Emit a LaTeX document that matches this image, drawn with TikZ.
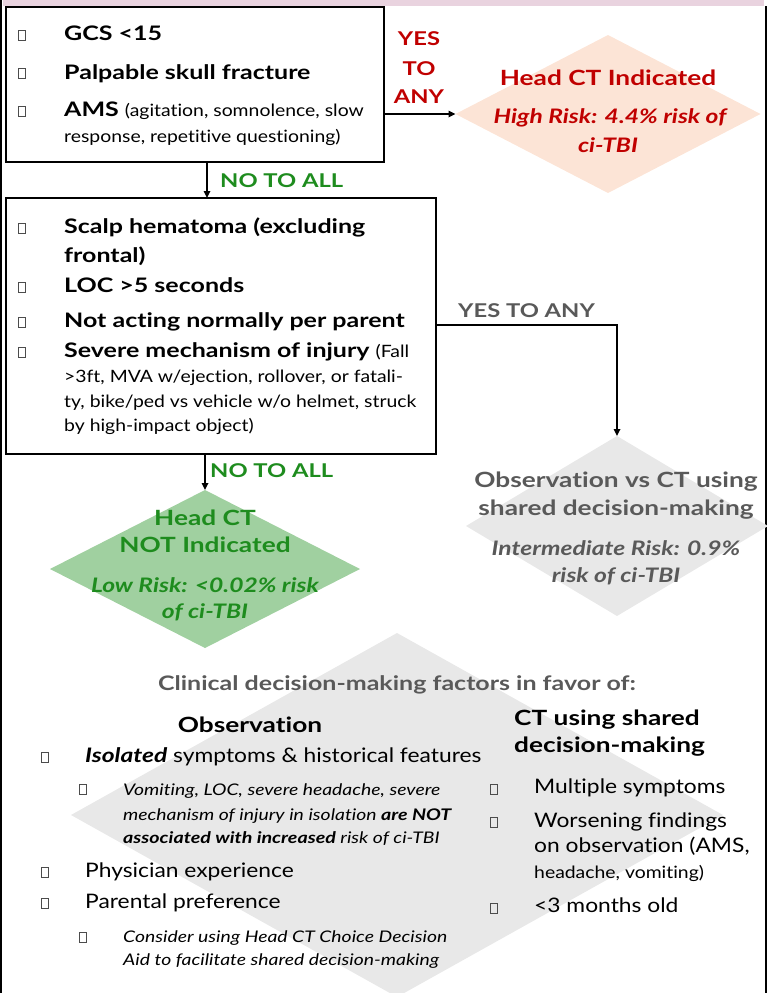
\documentclass[tikz,border=0pt]{standalone}
\usepackage{fontspec}
\setmainfont{Lato}[Ligatures=NoCommon,FakeStretch=1.14,BoldFeatures={FakeStretch=1.25},ItalicFeatures={FakeStretch=1.21},BoldItalicFeatures={FakeStretch=1.23}]
\usetikzlibrary{arrows.meta,shapes.geometric}
\definecolor{stripc}{RGB}{233,211,223}
\definecolor{redt}{RGB}{192,0,0}
\definecolor{greent}{RGB}{30,140,30}
\definecolor{greenf}{RGB}{160,208,160}
\definecolor{pinkf}{RGB}{252,228,214}
\definecolor{grayf}{RGB}{232,232,232}
\definecolor{grayt}{RGB}{89,89,89}
\newcommand\myB{\fontsize{20}{24}\selectfont\bfseries}
\newcommand\myL{\fontsize{19}{23}\selectfont\bfseries}
\newcommand\myS{\fontsize{17}{20}\selectfont}
\newcommand\myR{\fontsize{20}{24}\selectfont}
\newcommand\myI{\fontsize{16}{20}\selectfont\itshape}
\newcommand\myD{\fontsize{21}{25}\selectfont\bfseries}
\newcommand\myDI{\fontsize{20}{24}\selectfont\bfseries\itshape}
\tikzset{
  boxst/.style={draw=black,line width=2.3pt,inner sep=0pt,outer sep=0pt},
  chk/.style={draw=black!70,line width=0.8pt,minimum width=7pt,minimum height=10pt,inner sep=0pt},
  arr/.style={line width=1.6pt,-{Triangle[length=7pt,width=6.5pt]}},
  t/.style={inner sep=0pt,anchor=base west},
  tc/.style={inner sep=0pt,anchor=base},
  dia/.style={diamond,inner sep=0pt,draw=none,outer sep=0pt}
}
\begin{document}
\begin{tikzpicture}[x=1pt,y=-1pt]
\useasboundingbox (0,0) rectangle (767,993);
% frame
\fill[stripc] (3,0) rectangle (764,6);
\draw[line width=2pt] (1.2,0) -- (1.2,993);
\draw[line width=2pt] (765.8,6) -- (765.8,993);
% diamonds
\node[dia,fill=grayf,minimum width=652pt,minimum height=364pt] (fac) at (397,815) {};
\node[dia,fill=pinkf,minimum width=305pt,minimum height=158pt] (hi) at (608,114) {};
\node[dia,fill=grayf,minimum width=302pt,minimum height=180pt] (obs) at (617,526) {};
\node[dia,fill=greenf,minimum width=310pt,minimum height=158pt] (lo) at (205,569) {};
% boxes
\node[boxst,minimum width=378pt,minimum height=155pt] (b1) at (195,84.5) {};
\node[boxst,minimum width=430pt,minimum height=256pt] (b2) at (221,326) {};
% connectors
\coordinate (a1) at (207,0);
\coordinate (m2) at (617,325);
\draw[arr] (b1.east |- hi.west) -- (hi.west);
\draw[arr] (b1.south -| a1) -- (b2.north -| a1);
\draw[arr] (m2 -| b2.east) -- (m2) -- (obs.north);
\draw[arr] (b2.south -| lo.north) -- (lo.north);
% labels
\node[tc,font=\myL,text=redt] (y1) at (419,45) {YES};
\node[tc,font=\myL,text=redt] (y2) at (419,75) {TO};
\node[tc,font=\myL,text=redt] (y3) at (419,103) {ANY};
\node[t,font=\myL,text=greent] (n1) at (220,187) {NO TO ALL};
\node[t,font=\myL,text=grayt] (y4) at (458,317) {YES TO ANY};
\node[t,font=\myL,text=greent] (n2) at (210,477) {NO TO ALL};
% box 1
\node[chk] (c1) at (22,35) {};
\node[t,font=\myB] (t1) at (64,40) {GCS <15};
\node[chk] (c2) at (22,73) {};
\node[t,font=\myB] (t2) at (64,79) {Palpable skull fracture};
\node[chk] (c3) at (22,111) {};
\node[t,font=\myB] (t3) at (64,116) {AMS {\myS\mdseries (agitation, somnolence, slow}};
\node[t,font=\myS] (t3b) at (64,142) {response, repetitive questioning)};
% box 2
\node[chk] (c4) at (22,228) {};
\node[t,font=\myB] (t4) at (64,233) {Scalp hematoma (excluding};
\node[t,font=\myB] (t4b) at (64,262) {frontal)};
\node[chk] (c5) at (22,287) {};
\node[t,font=\myB] (t5) at (64,292) {LOC >5 seconds};
\node[chk] (c6) at (22,322) {};
\node[t,font=\myB] (t6) at (64,327) {Not acting normally per parent};
\node[chk] (c7) at (22,352) {};
\node[t,font=\myB] (t7) at (64,357) {Severe mechanism of injury {\myS\mdseries (Fall}};
\node[t,font=\myS] (t7b) at (64,382) {>3ft, MVA w/ejection, rollover, or fatali-};
\node[t,font=\myS] (t7c) at (64,407) {ty, bike/ped vs vehicle w/o helmet, struck};
\node[t,font=\myS] (t7d) at (64,431) {by high-impact object)};
% high risk diamond text
\node[tc,font=\myD,text=redt] (h1) at (608,85) {Head CT Indicated};
\node[tc,font=\myDI,text=redt] (h2) at (610,123) {High Risk: 4.4\% risk of};
\node[tc,font=\myDI,text=redt] (h3) at (608,152) {ci-TBI};
% observation diamond text
\node[tc,font=\myD,text=grayt] (o1) at (616,487) {Observation vs CT using};
\node[tc,font=\myD,text=grayt] (o2) at (616,515) {shared decision-making};
\node[tc,font=\myDI,text=grayt] (o3) at (616,555) {Intermediate Risk: 0.9\%};
\node[tc,font=\myDI,text=grayt] (o4) at (616,582) {risk of ci-TBI};
% low risk diamond text
\node[tc,font=\myD,text=greent] (l1) at (205,525) {Head CT};
\node[tc,font=\myD,text=greent] (l2) at (205,552) {NOT Indicated};
\node[tc,font=\myDI,text=greent] (l3) at (205,592) {Low Risk: <0.02\% risk};
\node[tc,font=\myDI,text=greent] (l4) at (205,618) {of ci-TBI};
% factors
\node[tc,font=\myB,text=grayt] (f0) at (397,690) {Clinical decision-making factors in favor of:};
\node[tc,font=\myD] (f1) at (250,732) {Observation};
\node[t,font=\myD] (f2) at (514,725) {CT using shared};
\node[t,font=\myD] (f2b) at (514,752) {decision-making};
\node[chk] (d1) at (45,757.5) {};
\node[t,font=\myR] (e1) at (85,762) {{\bfseries\itshape Isolated} symptoms \& historical features};
\node[chk] (d2) at (83,789.5) {};
\node[t,font=\myI] (e2) at (123,795) {Vomiting, LOC, severe headache, severe};
\node[t,font=\myI] (e2b) at (123,820) {mechanism of injury in isolation {\bfseries are NOT}};
\node[t,font=\myI] (e2c) at (123,843) {{\bfseries associated with increased} risk of ci-TBI};
\node[chk] (d3) at (45,872) {};
\node[t,font=\myR] (e3) at (85,877) {Physician experience};
\node[chk] (d4) at (45,903) {};
\node[t,font=\myR] (e4) at (85,908) {Parental preference};
\node[chk] (d5) at (83,937) {};
\node[t,font=\myI] (e5) at (123,942) {Consider using Head CT Choice Decision};
\node[t,font=\myI] (e5b) at (123,965) {Aid to facilitate shared decision-making};
\node[chk] (d6) at (494,789) {};
\node[t,font=\myR] (g1) at (534,793) {Multiple symptoms};
\node[chk] (d7) at (494,822) {};
\node[t,font=\myR] (g2) at (534,827) {Worsening findings};
\node[t,font=\myR] (g2b) at (534,852) {on observation (AMS,};
\node[t,font=\myS] (g2c) at (534,878) {headache, vomiting)};
\node[chk] (d8) at (494,908) {};
\node[t,font=\myR] (g3) at (534,912) {<3 months old};
\end{tikzpicture}
\end{document}
